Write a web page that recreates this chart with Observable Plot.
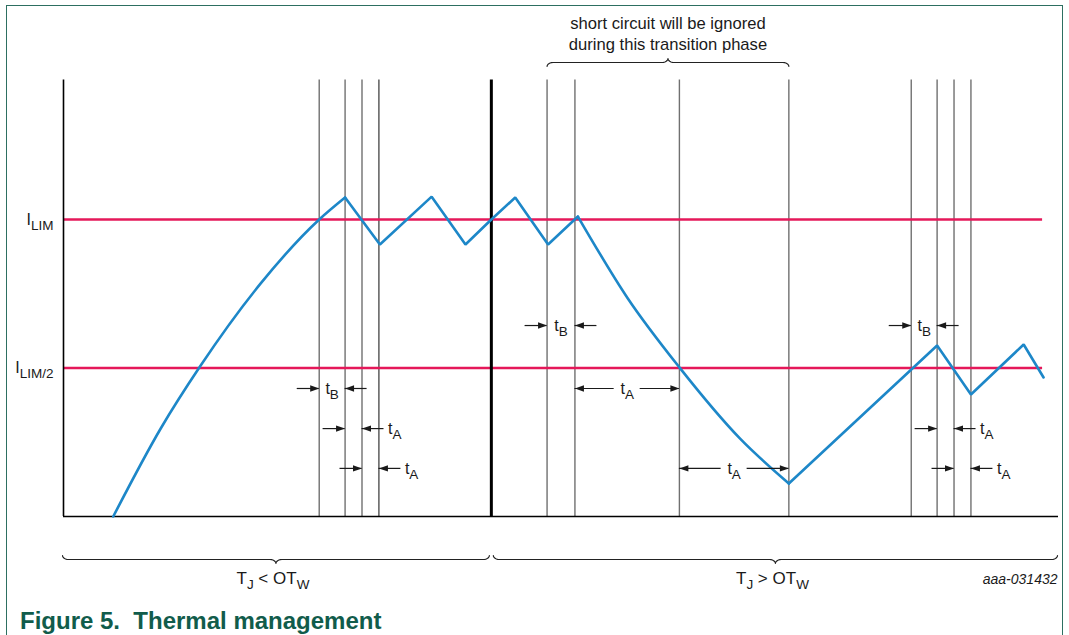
<!DOCTYPE html>
<html><head><meta charset="utf-8">
<script src="https://cdn.jsdelivr.net/npm/d3@7"></script>
<script src="https://cdn.jsdelivr.net/npm/@observablehq/plot@0.6"></script>
<style>
body{margin:0;background:#fff;}
#wrap{position:relative;width:1069px;height:635px;overflow:hidden;font-family:"Liberation Sans",Arial,sans-serif;}
#frame{position:absolute;left:6px;top:5px;width:1055px;height:700px;border:1.5px solid #2d6f61;border-bottom:none;pointer-events:none;}
#caption{position:absolute;left:20px;top:609px;font-weight:bold;font-size:24px;line-height:24px;color:#115c4b;white-space:pre;}
</style></head>
<body><div id="wrap"><div id="chart"></div><div id="frame"></div><div id="caption">Figure 5.  Thermal management</div></div>
<script>
// ---- data (time in arbitrary units, current in units of I_LIM) ----
const riseTime    = [5.0, 9.8, 13.7, 19.8, 25.7, 28.3];
const riseCurrent = [0, 0.298, 0.504, 0.784, 1.0, 1.074];
const sawTime     = [28.3, 31.8, 37.0, 40.4, 43.0, 45.4, 48.7, 51.7];
const sawCurrent  = [1.074, 0.916, 1.077, 0.916, 1.0, 1.074, 0.916, 1.010];
const decayTime   = [51.7, 56.7, 61.9, 68.0, 72.9];
const decayCurrent= [1.010, 0.735, 0.502, 0.262, 0.111];
const tailTime    = [72.9, 87.8, 91.2, 96.5, 98.5];
const tailCurrent = [0.111, 0.576, 0.411, 0.579, 0.468];

const limitLevels = [1, 0.5];
const limitLabels = ["I_{LIM}", "I_{LIM/2}"];

const eventTimes     = [25.7, 28.3, 30.0, 48.6, 51.4, 61.9, 72.9, 85.2, 87.8, 89.5, 91.2];
const eventTimesDark = [31.7];
const otwTime        = [43.0];

const dimStart = [25.7, 28.3, 30.0, 48.6, 85.2, 87.8, 89.5, 51.4, 61.9];
const dimEnd   = [28.3, 30.0, 31.7, 51.4, 87.8, 89.5, 91.2, 61.9, 72.9];
const dimLevel = [0.431, 0.296, 0.162, 0.643, 0.643, 0.296, 0.162, 0.431, 0.162];
const dimLabel = ["t_{B}","t_{A}","t_{A}","t_{B}","t_{B}","t_{A}","t_{A}","t_{A}","t_{A}"];
const dimStyle = ["outer-center","outer-right","outer-right","outer-center","outer-center","outer-right","outer-right","inner","inner"];

const phaseStart = [-0.1, 43.2];
const phaseEnd   = [42.8, 99.9];
const phaseLabel = ["T_{J} < OT_{W}", "T_{J} > OT_{W}"];
const figureId   = "aaa-031432";

const transitionStart = 48.6, transitionEnd = 72.9;
const transitionLabel = "short circuit will be ignored\nduring this transition phase";

// ---- layout helpers ----
const X0 = 63, X1 = 1058, Y0 = 516, Y1 = 219;
const kx = (X1 - X0) / 100, ky = (Y0 - Y1) / 1;   // px per unit
const px2t = p => p / kx, px2v = p => p / ky;
const lineTop = 1.47, axisEnd = 100, limitEnd = 98.4;
const red = "#e5185a", blue = "#1d87c8", ink = "#1a1a1a";

const rows = (ts, vs) => ts.map((t, i) => ({t, v: vs[i]}));

// arrow shafts, heads, labels
const shafts = [], headsR = [], headsL = [], labC = [], labR = [];
const tailLen = px2t(22), gap = px2t(13), pad = px2t(4);
dimStart.forEach((s, i) => {
  const e = dimEnd[i], y = dimLevel[i], st = dimStyle[i], m = (s + e) / 2;
  if (st === "inner") {
    shafts.push({x1: s, x2: m - gap, y}, {x1: m + gap, x2: e, y});
    headsL.push({x: s, y}); headsR.push({x: e, y});
    labC.push({x: m, y, text: dimLabel[i]});
  } else {
    shafts.push({x1: s - tailLen, x2: s, y}, {x1: e, x2: e + tailLen, y});
    headsR.push({x: s, y}); headsL.push({x: e, y});
    if (st === "outer-center") labC.push({x: m, y, text: dimLabel[i]});
    else labR.push({x: e + tailLen + pad, y, text: dimLabel[i]});
  }
});

const headRight = {draw(ctx){ ctx.moveTo(0,0); ctx.lineTo(-9,-3.2); ctx.lineTo(-9,3.2); ctx.closePath(); }};
const headLeft  = {draw(ctx){ ctx.moveTo(0,0); ctx.lineTo(9,-3.2); ctx.lineTo(9,3.2); ctx.closePath(); }};

// braces: s=+1 ends curl up / tip down, s=-1 the opposite
function brace(x1, x2, y, s, id) {
  const pts = [], rx = px2t(6), h = px2v(4) * s, m = (x1 + x2) / 2, n = 6;
  for (let k = 0; k <= n; k++) { const a = k / n * Math.PI / 2; pts.push({t: x1 + rx - rx * Math.cos(a), v: y + h - h * Math.sin(a), id}); }
  for (let k = 0; k <= n; k++) { const a = k / n * Math.PI / 2; pts.push({t: m - rx + rx * Math.sin(a), v: y - h + h * Math.cos(a), id}); }
  for (let k = n; k >= 0; k--) { const a = k / n * Math.PI / 2; pts.push({t: m + rx - rx * Math.sin(a), v: y - h + h * Math.cos(a), id}); }
  for (let k = n; k >= 0; k--) { const a = k / n * Math.PI / 2; pts.push({t: x2 - rx + rx * Math.cos(a), v: y + h - h * Math.sin(a), id}); }
  return pts;
}
const phaseY = px2v(-43), phaseTextY = px2v(-62);
const braces = [
  ...phaseStart.flatMap((s, i) => brace(s, phaseEnd[i], phaseY, 1, "p" + i)),
  ...brace(transitionStart, transitionEnd, px2v(Y0 - 62), -1, "top")
];
const phaseLabels = phaseStart.map((s, i) => ({x: (s + phaseEnd[i]) / 2 - 0.3, y: phaseTextY, text: phaseLabel[i]}));

const font = "'Liberation Sans', Arial, sans-serif";
const chart = Plot.plot({
  width: 1069, height: 600, margin: 0,
  style: {fontFamily: font, background: "white"},
  x: {domain: [0, 100], range: [X0, X1], axis: null},
  y: {domain: [0, 1], range: [Y0, Y1], axis: null},
  marks: [
    Plot.ruleX(eventTimes, {y1: 0, y2: lineTop, stroke: "#707070", strokeWidth: 1.4}),
    Plot.ruleX(eventTimesDark, {y1: 0, y2: lineTop, stroke: "#222", strokeWidth: 1.1}),
    Plot.ruleY(limitLevels, {x1: 0, x2: limitEnd, stroke: red, strokeWidth: 2.6}),
    Plot.ruleX(otwTime, {y1: 0, y2: lineTop, stroke: "#000", strokeWidth: 3}),
    Plot.ruleX([0], {y1: 0, y2: lineTop, stroke: "#000", strokeWidth: 1.6}),
    Plot.ruleY([0], {x1: 0, x2: axisEnd, stroke: "#000", strokeWidth: 1.6}),
    Plot.line(rows(riseTime, riseCurrent), {x: "t", y: "v", stroke: blue, strokeWidth: 2.6, curve: "monotone-x"}),
    Plot.line(rows(sawTime, sawCurrent), {x: "t", y: "v", stroke: blue, strokeWidth: 2.6, strokeLinejoin: "miter"}),
    Plot.line(rows(decayTime, decayCurrent), {x: "t", y: "v", stroke: blue, strokeWidth: 2.6, curve: "monotone-x"}),
    Plot.line(rows(tailTime, tailCurrent), {x: "t", y: "v", stroke: blue, strokeWidth: 2.6, strokeLinejoin: "miter"}),
    Plot.ruleY(shafts, {x1: "x1", x2: "x2", y: "y", stroke: ink, strokeWidth: 1.2}),
    Plot.dot(headsR, {x: "x", y: "y", symbol: headRight, fill: ink}),
    Plot.dot(headsL, {x: "x", y: "y", symbol: headLeft, fill: ink}),
    Plot.text(labC, {x: "x", y: "y", text: "text", textAnchor: "middle", fontSize: 16, fill: ink}),
    Plot.text(labR, {x: "x", y: "y", text: "text", textAnchor: "start", fontSize: 16, fill: ink}),
    Plot.text(limitLevels, {x: px2t(-10), y: d => d, text: (d, i) => limitLabels[i], textAnchor: "end", fontSize: 16, fill: ink}),
    Plot.line(braces, {x: "t", y: "v", z: "id", stroke: "#222", strokeWidth: 1.2}),
    Plot.text(phaseLabels, {x: "x", y: "y", text: "text", textAnchor: "middle", fontSize: 17, fill: ink}),
    Plot.text([figureId], {x: px2t(1057 - X0), y: px2v(Y0 - 579), text: d => d, textAnchor: "end", fontSize: 14, fontStyle: "italic", fill: ink}),
    Plot.text([transitionLabel], {x: (transitionStart + transitionEnd) / 2, y: px2v(Y0 - 32.5), text: d => d, textAnchor: "middle", fontSize: 16.6, lineHeight: 1.27, fill: ink})
  ]
});

// turn "_{...}" into subscripts
const NS = "http://www.w3.org/2000/svg";
chart.querySelectorAll("text").forEach(el => {
  const s = el.textContent;
  if (!s.includes("_{")) return;
  const parts = s.split(/_\{([^}]*)\}/);
  el.textContent = "";
  let shifted = false;
  parts.forEach((p, i) => {
    const ts = document.createElementNS(NS, "tspan");
    ts.textContent = p;
    if (i % 2 === 1) { ts.setAttribute("dy", "5"); ts.setAttribute("font-size", "13.5"); shifted = true; }
    else if (shifted) { ts.setAttribute("dy", "-5"); shifted = false; }
    el.appendChild(ts);
  });
});
document.getElementById("chart").appendChild(chart);
</script>
</body></html>
